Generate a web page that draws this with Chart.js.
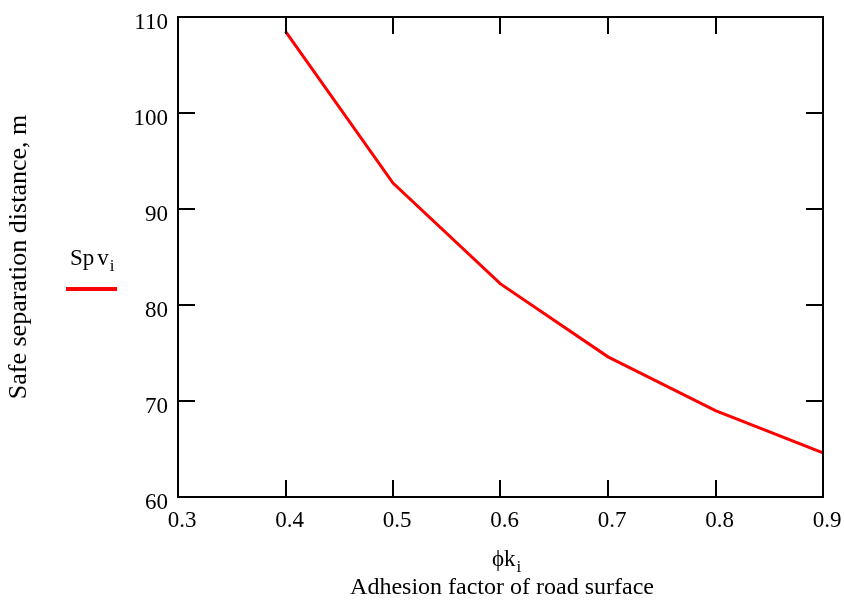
<!DOCTYPE html>
<html>
<head>
<meta charset="utf-8">
<script src="https://cdn.jsdelivr.net/npm/chart.js@4"></script>
<style>
  html, body { margin: 0; padding: 0; background: #ffffff; }
  #wrap { width: 844px; height: 601px; }
</style>
</head>
<body>
<div id="wrap"><canvas id="c" width="844" height="601"></canvas></div>
<script>
// Adhesion factor of the road surface and the resulting safe separation distance (m)
const adhesion = [0.4, 0.5, 0.6, 0.7, 0.8, 0.9];
const separation = [108.5, 92.7, 82.2, 74.6, 69.0, 64.6];
const xTicks = [0.3, 0.4, 0.5, 0.6, 0.7, 0.8, 0.9];
const yTicks = [60, 70, 80, 90, 100, 110];

const SERIF = '"Liberation Serif", "Times New Roman", serif';
const TICK_LEN = 17;

// Frame with inward tick marks on all four sides, plus the axis caption and series key
const framePlugin = {
  id: 'frame',
  afterDatasetsDraw(chart) {
    const { ctx, chartArea: a, scales } = chart;
    ctx.save();
    ctx.strokeStyle = '#000';
    ctx.lineWidth = 2;
    ctx.strokeRect(a.left, a.top, a.right - a.left, a.bottom - a.top);
    ctx.beginPath();
    scales.x.ticks.forEach(t => {
      const px = Math.round(scales.x.getPixelForValue(t.value));
      ctx.moveTo(px, a.bottom); ctx.lineTo(px, a.bottom - TICK_LEN);
      ctx.moveTo(px, a.top); ctx.lineTo(px, a.top + TICK_LEN);
    });
    scales.y.ticks.forEach(t => {
      const py = Math.round(scales.y.getPixelForValue(t.value));
      ctx.moveTo(a.left, py); ctx.lineTo(a.left + TICK_LEN, py);
      ctx.moveTo(a.right, py); ctx.lineTo(a.right - TICK_LEN, py);
    });
    ctx.stroke();

    ctx.fillStyle = '#000';
    ctx.textBaseline = 'alphabetic';
    // x-axis variable name with subscript
    ctx.font = '23px ' + SERIF;
    ctx.textAlign = 'left';
    ctx.fillText('\u03D5k', 492, 566);
    const w = ctx.measureText('\u03D5k').width;
    ctx.font = '17px ' + SERIF;
    ctx.fillText('i', 492 + w + 1, 572);
    // x-axis description
    ctx.font = '24px ' + SERIF;
    ctx.textAlign = 'center';
    ctx.fillText('Adhesion factor of road surface', 502, 594);

    // series key
    ctx.textAlign = 'left';
    ctx.font = '23px ' + SERIF;
    ctx.fillText('Sp', 70, 265);
    const w2 = ctx.measureText('Sp').width;
    ctx.fillText('v', 70 + w2 + 3, 265);
    const w3 = ctx.measureText('v').width;
    ctx.font = '17px ' + SERIF;
    ctx.fillText('i', 70 + w2 + 3 + w3 + 1, 271);
    ctx.strokeStyle = '#ff0000';
    ctx.lineWidth = 4;
    ctx.beginPath();
    ctx.moveTo(66, 289); ctx.lineTo(117, 289);
    ctx.stroke();
    ctx.restore();
  }
};

new Chart(document.getElementById('c'), {
  type: 'line',
  data: {
    datasets: [{
      data: adhesion.map((x, i) => ({ x: x, y: separation[i] })),
      borderColor: '#ff0000',
      borderWidth: 3,
      pointRadius: 0,
      tension: 0,
      fill: false
    }]
  },
  options: {
    responsive: false,
    animation: false,
    layout: { padding: { left: 0, right: 21, top: 17, bottom: 0 } },
    plugins: { legend: { display: false }, tooltip: { enabled: false } },
    scales: {
      x: {
        type: 'linear',
        min: 0.3, max: 0.9,
        afterBuildTicks: s => { s.ticks = xTicks.map(v => ({ value: v })); },
        afterFit: s => { s.height = 104; s.paddingLeft = 0; s.paddingRight = 0; },
        grid: { display: false, drawTicks: false },
        border: { display: false },
        ticks: {
          color: '#000', font: { family: SERIF, size: 23 },
          padding: 10, labelOffset: 4, maxRotation: 0, autoSkip: false,
          callback: v => Number(v).toFixed(1)
        }
      },
      y: {
        type: 'linear',
        min: 60, max: 110,
        afterBuildTicks: s => { s.ticks = yTicks.map(v => ({ value: v })); },
        afterFit: s => { s.width = 178; s.paddingTop = 0; s.paddingBottom = 0; },
        grid: { display: false, drawTicks: false },
        border: { display: false },
        title: {
          display: true, text: 'Safe separation distance, m',
          color: '#000', font: { family: SERIF, size: 26 },
          padding: { top: 4, bottom: 0 }
        },
        ticks: {
          color: '#000', font: { family: SERIF, size: 23 },
          padding: 10, labelOffset: 6, autoSkip: false,
          callback: v => String(v)
        }
      }
    }
  },
  plugins: [framePlugin]
});
</script>
</body>
</html>
